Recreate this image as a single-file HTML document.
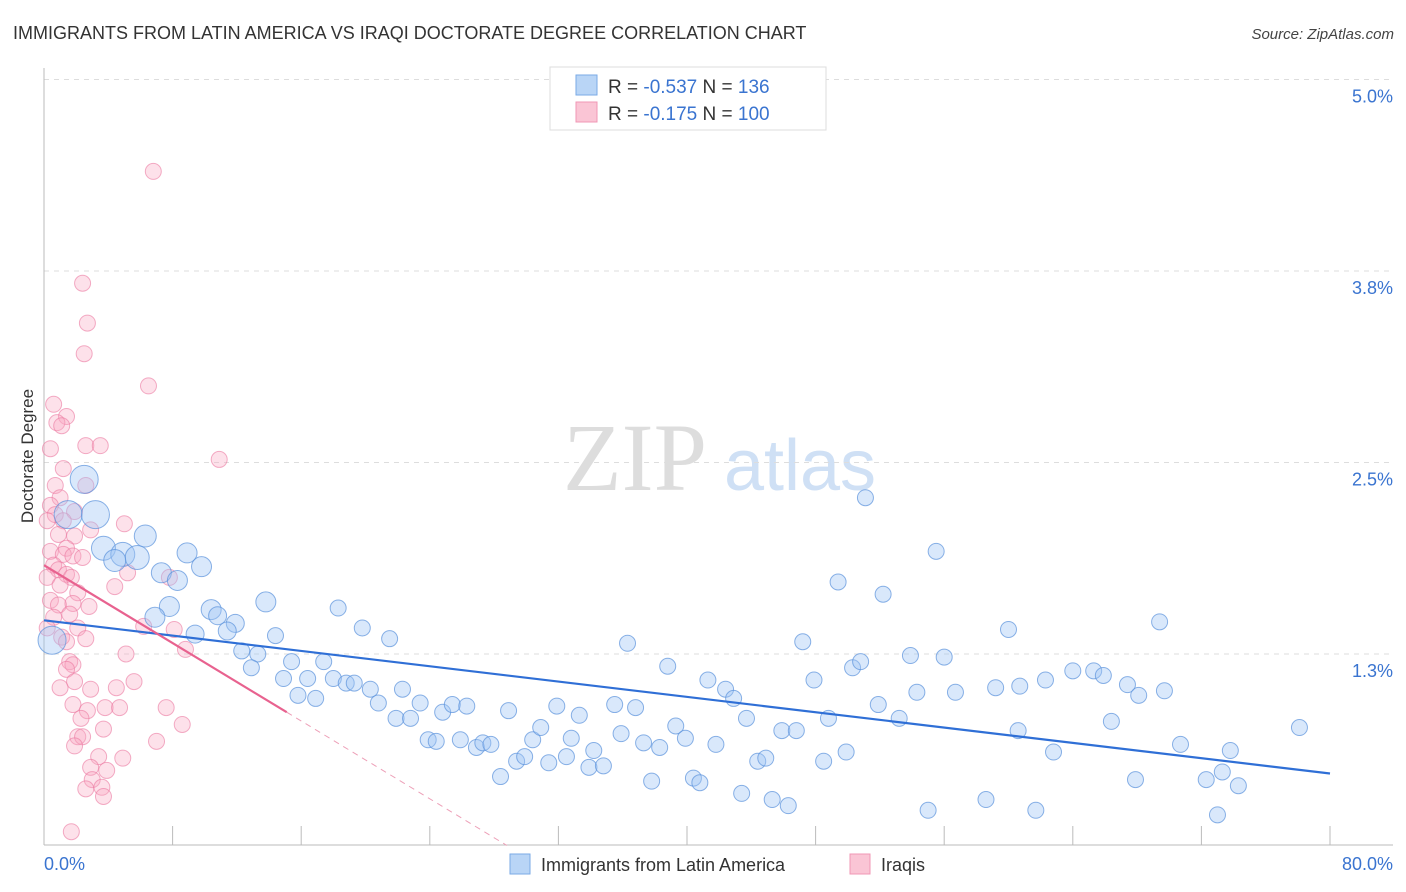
<!DOCTYPE html>
<html><head><meta charset="utf-8"><style>
body{margin:0;background:#fff;font-family:"Liberation Sans",sans-serif}
</style></head><body>
<svg id="chart" width="1406" height="892" xmlns="http://www.w3.org/2000/svg" style="display:block">
<text x="13" y="39" font-size="18" fill="#333">IMMIGRANTS FROM LATIN AMERICA VS IRAQI DOCTORATE DEGREE CORRELATION CHART</text>
<text x="1394" y="39" font-size="15" font-style="italic" fill="#444" text-anchor="end">Source: ZipAtlas.com</text>
<text transform="translate(33,456) rotate(-90)" font-size="17" fill="#333" text-anchor="middle">Doctorate Degree</text>
<g>
<text x="635" y="490" font-size="96" font-family="Liberation Serif,serif" fill="#ddd" text-anchor="middle">ZIP</text>
<text x="800" y="490" font-size="72" fill="#cfe0f5" text-anchor="middle">atlas</text>
</g>
<g id="grid"></g><g id="axes"></g><g id="pts"></g><g id="trend"></g>
<g>
<rect x="550" y="67" width="276" height="63" fill="#fff" stroke="#ddd"/>
<rect x="576" y="75" width="21" height="20" fill="#b9d5f6" stroke="#7aaae6"/>
<rect x="576" y="102" width="21" height="20" fill="#fac5d5" stroke="#f097b5"/>
<text x="608" y="93" font-size="19" fill="#333">R = <tspan fill="#3a74d0">-0.537</tspan>   N =  <tspan fill="#3a74d0">136</tspan></text>
<text x="608" y="120" font-size="19" fill="#333">R =  <tspan fill="#3a74d0">-0.175</tspan>   N = <tspan fill="#3a74d0">100</tspan></text>
</g>
<g>
<rect x="510" y="854" width="20" height="20" fill="#b9d5f6" stroke="#7aaae6"/>
<text x="541" y="871" font-size="18" fill="#333">Immigrants from Latin America</text>
<rect x="850" y="854" width="20" height="20" fill="#fac5d5" stroke="#f097b5"/>
<text x="881" y="871" font-size="18" fill="#333">Iraqis</text>
</g>
</svg>
<script>
const yTicks=[1.25,2.5,3.75,5.0];
const yTickLabels=["1.3%","2.5%","3.8%","5.0%"];
const xTicks=[0,8,16,24,32,40,48,56,64,72,80];
const xTickLabels=["0.0%","80.0%"];
const blueX=[0.5,1.5,2.5,3.2,3.7,4.9,5.8,6.3,4.4,7.3,8.3,8.9,9.8,7.8,6.9,10.4,10.8,11.9,11.4,9.4,13.8,12.3,13.3,14.4,12.9,15.4,14.9,15.8,17.4,16.9,16.4,18.3,19.8,21.5,18.0,18.8,19.3,20.3,20.8,22.3,21.9,23.4,22.8,23.9,24.4,24.8,25.4,26.3,25.9,26.9,27.3,27.8,28.4,28.9,29.4,29.9,30.4,30.9,31.4,31.9,32.5,32.8,33.3,33.9,34.2,34.8,35.5,35.9,36.3,36.8,37.3,37.8,38.3,38.8,39.3,39.9,40.4,40.8,41.3,41.8,42.4,42.9,43.4,43.7,44.4,44.9,45.3,45.9,46.3,46.8,47.2,47.9,48.5,48.8,49.4,49.9,50.3,50.8,51.1,51.9,52.2,53.2,53.9,54.3,55.0,55.5,56.0,56.7,58.6,59.2,60.0,60.7,60.6,61.7,62.3,62.8,64.0,65.3,65.9,66.4,67.4,67.9,68.1,69.4,69.7,70.7,72.3,73.0,73.3,73.8,74.3,78.1];
const blueY=[1.34,2.16,2.39,2.16,1.94,1.90,1.88,2.02,1.86,1.78,1.73,1.91,1.82,1.56,1.49,1.54,1.50,1.45,1.40,1.38,1.59,1.27,1.25,1.37,1.16,1.20,1.09,0.98,1.20,0.96,1.09,1.55,1.42,1.35,1.09,1.06,1.06,1.02,0.93,1.02,0.83,0.93,0.83,0.69,0.68,0.87,0.92,0.91,0.69,0.64,0.67,0.66,0.45,0.88,0.55,0.58,0.69,0.77,0.54,0.91,0.58,0.70,0.85,0.51,0.62,0.52,0.92,0.73,1.32,0.90,0.67,0.42,0.64,1.17,0.78,0.70,0.44,0.41,1.08,0.66,1.02,0.96,0.34,0.83,0.55,0.57,0.30,0.75,0.26,0.75,1.33,1.08,0.55,0.83,1.72,0.61,1.16,1.20,2.27,0.92,1.64,0.83,1.24,1.00,0.23,1.92,1.23,1.00,0.30,1.03,1.41,1.04,0.75,0.23,1.08,0.61,1.14,1.14,1.11,0.81,1.05,0.43,0.98,1.46,1.01,0.66,0.43,0.20,0.48,0.62,0.39,0.77];
const blueW=[14,14,14,14,12,12,12,11,11,10,10,10,10,10,10,10,9,9,9,9,10];
const pinkX=[6.8,2.4,2.7,2.5,6.5,0.6,1.4,0.8,1.1,2.6,3.5,0.4,10.9,1.2,0.7,2.6,1.0,0.4,1.9,0.7,1.2,0.2,5.0,2.9,0.9,1.9,1.4,0.4,1.2,1.8,2.4,0.6,0.9,1.4,1.7,5.2,0.2,1.0,7.8,4.4,2.1,0.4,0.9,1.8,2.8,1.6,0.6,6.2,0.2,2.1,8.1,1.1,1.4,2.6,8.8,5.1,1.6,1.8,1.4,1.9,1.0,4.5,5.6,2.9,1.8,3.8,2.7,2.3,4.7,7.6,8.6,3.7,2.1,2.4,1.9,7.0,3.4,4.9,2.9,3.9,3.0,2.6,3.6,3.7,1.7];
const pinkY=[4.40,3.67,3.41,3.21,3.00,2.88,2.80,2.76,2.74,2.61,2.61,2.59,2.52,2.46,2.35,2.35,2.27,2.22,2.18,2.16,2.12,2.12,2.10,2.06,2.03,2.02,1.94,1.92,1.90,1.89,1.88,1.83,1.80,1.77,1.75,1.78,1.75,1.70,1.75,1.69,1.65,1.60,1.57,1.58,1.56,1.51,1.49,1.43,1.42,1.42,1.41,1.36,1.33,1.35,1.28,1.25,1.20,1.18,1.15,1.07,1.03,1.03,1.07,1.02,0.92,0.90,0.88,0.83,0.90,0.90,0.79,0.76,0.71,0.71,0.65,0.68,0.58,0.57,0.51,0.49,0.43,0.37,0.38,0.32,0.09];
const blueTrend=[[0,1.47],[80,0.47]];
const pinkTrend=[[0,1.83],[15.1,0.87],[28.8,0]];
const X0=44,X1=1330,Y0=845.5,PPY=153.2;
const sx=v=>X0+(X1-X0)*v/80, sy=v=>Y0-v*PPY;
const NS="http://www.w3.org/2000/svg";
function mk(p,t,a){const e=document.createElementNS(NS,t);for(const k in a)e.setAttribute(k,a[k]);document.getElementById(p).appendChild(e);return e;}
yTicks.forEach((v,i)=>{
 const l=mk('grid','line',{x1:44,x2:1393,y1:sy(v),y2:sy(v),stroke:'#ddd','stroke-dasharray':'5,5'});
 
 
 const t=mk('grid','text',{x:1393,y:sy(v)+23,'font-size':18,fill:'#3a74d0','text-anchor':'end'});
 
 
 t.textContent=yTickLabels[i];
});
const ax=mk('axes','line',{x1:44,x2:44,y1:68,y2:845,stroke:'#bbb'});


const bx=mk('axes','line',{x1:44,x2:1393,y1:845,y2:845,stroke:'#bbb'});


xTicks.forEach(v=>{const t=mk('axes','line',{x1:sx(v),x2:sx(v),y1:826,y2:845,stroke:'#bbb'});
 
 });
[[0,'start',44],[1,'end',1393]].forEach(([i,a,x])=>{const t=mk('axes','text',{x:x,y:870,'font-size':18,fill:'#3a74d0','text-anchor':a});
 
 
 t.textContent=xTickLabels[i];});
pinkX.forEach((v,i)=>{const c=mk('pts','circle',{cx:sx(v),cy:sy(pinkY[i]),r:8,fill:'rgba(248,170,195,0.35)',stroke:'rgba(235,120,160,0.6)'});
 
 });
blueX.forEach((v,i)=>{const c=mk('pts','circle',{cx:sx(v),cy:sy(blueY[i]),r:blueW[i]||8,fill:'rgba(160,198,245,0.4)',stroke:'rgba(90,145,220,0.7)'});
 
 });
const bl=mk('trend','line',{x1:sx(blueTrend[0][0]),y1:sy(blueTrend[0][1]),x2:sx(blueTrend[1][0]),y2:sy(blueTrend[1][1]),stroke:'#2f6fd6','stroke-width':2.2});


const pl=mk('trend','line',{x1:sx(pinkTrend[0][0]),y1:sy(pinkTrend[0][1]),x2:sx(pinkTrend[1][0]),y2:sy(pinkTrend[1][1]),stroke:'#e8628f','stroke-width':2.2});


const pd=mk('trend','line',{x1:sx(pinkTrend[1][0]),y1:sy(pinkTrend[1][1]),x2:sx(pinkTrend[2][0]),y2:sy(pinkTrend[2][1]),stroke:'#eda0b8','stroke-width':1,'stroke-dasharray':'6,5'});


</script>
</body></html>
